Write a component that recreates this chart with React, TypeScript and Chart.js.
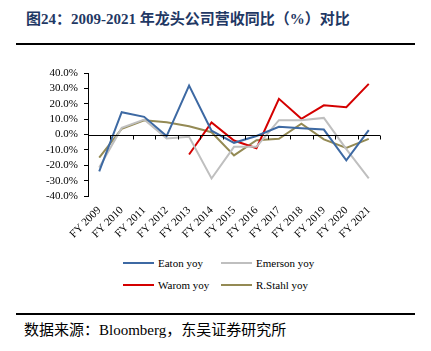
import React, { useEffect, useRef } from "react";
import { Chart, registerables } from "chart.js";

Chart.register(...registerables);

const categories = ["FY 2009", "FY 2010", "FY 2011", "FY 2012", "FY 2013", "FY 2014", "FY 2015", "FY 2016", "FY 2017", "FY 2018", "FY 2019", "FY 2020", "FY 2021"];
const eatonYoy = [-24, 14.5, 11.5, -1, 31.8, 2.5, -5.4, -1, 5, 4, 3.2, -16.8, 2.8];
const emersonYoy = [-21.5, 4.3, 9.7, -2.6, -1.5, -28.6, -8, -8, 9.3, 9.3, 10.8, -9.5, -28.6];
const waromYoy = [null, null, null, null, -13, 7.8, -3.9, -8.9, 23.2, 10.2, 19, 17.7, 32.9];
const stahlYoy = [-15, 3.7, 9.3, 8, 5.4, 1.5, -13.6, -3.7, -2.8, 7, -3.2, -8.7, -2.8];
const yTicks = [-40, -30, -20, -10, 0, 10, 20, 30, 40];

const seriesNames = ["Eaton yoy", "Emerson yoy", "Warom yoy", "R.Stahl yoy"];
const seriesColors = ["#3D69A3", "#BFBFBF", "#D40000", "#948A54"];

const SERIF = '"Liberation Serif", "Times New Roman", serif';

const zeroLinePlugin = {
  id: "zeroLine",
  afterDatasetsDraw(chart: any) {
    const { ctx, scales } = chart;
    const x = scales.x;
    const y = scales.y;
    const y0 = Math.round(y.getPixelForValue(0)) + 0.5;
    ctx.save();
    ctx.strokeStyle = "#000";
    ctx.lineWidth = 1;
    ctx.beginPath();
    ctx.moveTo(x.left, y0);
    ctx.lineTo(x.right, y0);
    const n = categories.length;
    const w = (x.right - x.left) / n;
    for (let i = 1; i <= n; i++) {
      const xx = Math.round(x.left + w * i) + 0.5;
      ctx.moveTo(xx, y0);
      ctx.lineTo(xx, y0 + 4);
    }
    ctx.stroke();
    ctx.restore();
  },
};

export default function App() {
  const ref = useRef<HTMLCanvasElement | null>(null);
  useEffect(() => {
    if (!ref.current) return;
    const data = [eatonYoy, emersonYoy, waromYoy, stahlYoy];
    const chart = new Chart(ref.current, {
      type: "line",
      data: {
        labels: categories,
        datasets: data.map((d, i) => ({
          label: seriesNames[i],
          data: d,
          borderColor: seriesColors[i],
          backgroundColor: seriesColors[i],
          borderWidth: 2,
          pointRadius: 0,
          tension: 0,
          spanGaps: false,
        })),
      },
      options: {
        animation: false,
        responsive: false,
        devicePixelRatio: 1,
        layout: { padding: { top: 23, right: 43, left: 0, bottom: 0 } },
        plugins: { legend: { display: false }, tooltip: { enabled: false } },
        scales: {
          x: {
            offset: true,
            grid: { display: false, drawTicks: false },
            border: { display: false },
            ticks: {
              minRotation: 45,
              maxRotation: 45,
              autoSkip: false,
              padding: 8,
              color: "#000",
              font: { family: SERIF, size: 11 },
            },
            afterFit: (s: any) => {
              s.height = 54;
            },
          },
          y: {
            min: -40,
            max: 40,
            afterBuildTicks: (s: any) => {
              s.ticks = yTicks.map((v) => ({ value: v }));
            },
            grid: { drawOnChartArea: false, drawTicks: true, tickLength: 4, color: "#000" },
            border: { display: true, color: "#000", width: 1 },
            ticks: {
              autoSkip: false,
              padding: 6,
              color: "#000",
              font: { family: SERIF, size: 11 },
              callback: (v: any) => Number(v).toFixed(1) + "%",
            },
            afterFit: (s: any) => {
              s.width = 80;
            },
          },
        },
      },
      plugins: [zeroLinePlugin],
    } as any);
    return () => chart.destroy();
  }, []);

  const legendItem = (i: number, left: number, top: number) => (
    <div key={i} style={{ position: "absolute", left, top, display: "flex", alignItems: "center", height: 14 }}>
      <div style={{ width: 31, height: 2, background: seriesColors[i], marginRight: 4 }} />
      <span style={{ fontFamily: SERIF, fontSize: 11, color: "#000", whiteSpace: "nowrap" }}>{seriesNames[i]}</span>
    </div>
  );

  return (
    <div style={{ position: "relative", width: 415, height: 335 }}>
      <div
        style={{
          position: "absolute",
          left: 18,
          top: -1,
          fontFamily: '"Liberation Serif", "Noto Sans CJK SC", serif',
          fontWeight: "bold",
          fontSize: 15,
          color: "#1F3864",
          whiteSpace: "nowrap",
        }}
      >
        图24：2009-2021 年龙头公司营收同比（%）对比
      </div>
      <div style={{ position: "absolute", left: 8, top: 35, width: 399, height: 2, background: "#000" }} />
      <canvas ref={ref} width={415} height={200} style={{ position: "absolute", left: 0, top: 42, width: 415, height: 200 }} />
      {legendItem(0, 115, 248)}
      {legendItem(1, 213, 248)}
      {legendItem(2, 115, 270)}
      {legendItem(3, 213, 270)}
      <div style={{ position: "absolute", left: 8, top: 305, width: 399, height: 2, background: "#000" }} />
      <div
        style={{
          position: "absolute",
          left: 16,
          top: 310,
          fontFamily: '"Liberation Serif", "Noto Sans CJK SC", serif',
          fontSize: 15,
          color: "#000",
          whiteSpace: "nowrap",
        }}
      >
        数据来源：Bloomberg，东吴证券研究所
      </div>
    </div>
  );
}
